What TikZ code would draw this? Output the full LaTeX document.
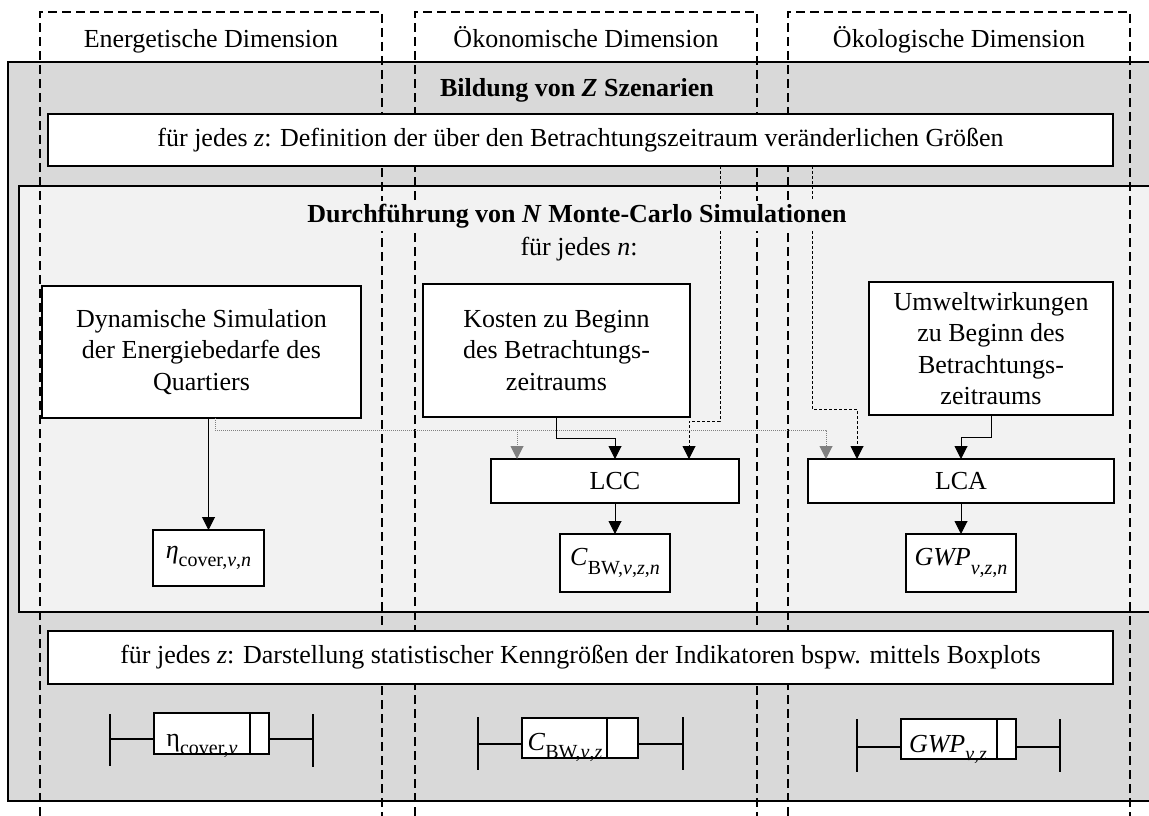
\documentclass[tikz,border=0pt]{standalone}
\usepackage{fontspec}
\setmainfont{Liberation Serif}
\usetikzlibrary{arrows.meta}
\definecolor{bandgray}{HTML}{D9D9D9}
\definecolor{loopgray}{HTML}{F2F2F2}
\definecolor{feedgray}{HTML}{808080}
% italic symbol and lowered index set in the text font
\newcommand{\vr}[1]{\textit{#1}}
\newcommand{\ix}[1]{\raisebox{-0.32em}{\fontsize{20}{21}\selectfont #1}}
\begin{document}
\begin{tikzpicture}[x=1pt,y=-1pt,
  every node/.style={font=\fontsize{26}{31.5}\selectfont, inner sep=0pt, outer sep=0pt},
  whitebox/.style={draw, line width=2pt, fill=white, align=center},
  dimline/.style={line width=2.5pt, dash pattern=on 9pt off 5pt},
  frame/.style={draw, line width=2pt},
  flow/.style={line width=1pt, -{Triangle[length=13pt,width=13pt]}},
  flowdash/.style={flow, dash pattern=on 3pt off 2pt},
  flowdot/.style={line width=1pt, draw=feedgray, dash pattern=on 1pt off 1pt,
                  -{Triangle[length=13pt,width=13pt,fill=feedgray]}},
  plotline/.style={line width=1.5pt},
  plotbox/.style={draw, line width=1.5pt, fill=white}
]
\useasboundingbox (0,0) rectangle (1149,816);

% scenario band and Monte-Carlo loop
\path[frame, fill=bandgray] (8,62) rectangle (1152,801);
\path[frame, fill=loopgray] (19,186) rectangle (1152,612);

% dimension columns
\draw[dimline] (40,816) -- (40,12) -- (382,12) -- (382,816);
\draw[dimline] (415,816) -- (415,12) -- (757,12) -- (757,816);
\draw[dimline] (788,816) -- (788,12) -- (1130,12) -- (1130,816);
\node[anchor=base] (hE) at (211,48) {Energetische Dimension};
\node[anchor=base] (hK) at (586,48) {Ökonomische Dimension};
\node[anchor=base] (hL) at (959,48) {Ökologische Dimension};

% process boxes
\node[whitebox, minimum width=1065, minimum height=52] (defbox) at (580.5,140)
  {für jedes \vr{z}: Definition der über den Betrachtungszeitraum veränderlichen Größen};
\node[whitebox, minimum width=319, minimum height=132] (dyn) at (201.5,352)
  {Dynamische Simulation\\der Energiebedarfe des\\Quartiers};
\node[whitebox, minimum width=267, minimum height=133] (kosten) at (556.5,350.5)
  {Kosten zu Beginn\\des Betrachtungs-\\zeitraums};
\node[whitebox, minimum width=244, minimum height=133] (umwelt) at (991,348.5)
  {Umweltwirkungen\\zu Beginn des\\Betrachtungs-\\zeitraums};
\node[whitebox, minimum width=248, minimum height=44] (lcc) at (615,481) {LCC};
\node[whitebox, minimum width=306, minimum height=44] (lca) at (961,481) {LCA};
\node[whitebox, minimum width=111, minimum height=56] (eta) at (208.5,558)
  {\vr{η}\ix{cover,\vr{v},\vr{n}}};
\node[whitebox, minimum width=110, minimum height=58] (cbw) at (615,563)
  {\vr{C}\ix{BW,\vr{v},\vr{z},\vr{n}}};
\node[whitebox, minimum width=110, minimum height=58] (gwp) at (961,563)
  {\vr{GWP}\ix{\vr{v},\vr{z},\vr{n}}};
\node[whitebox, minimum width=1065, minimum height=53] (outbox) at (580.5,657.5)
  {für jedes \vr{z}: Darstellung statistischer Kenngrößen der Indikatoren bspw. mittels Boxplots};

% helper abscissae and bus line
\coordinate (xk) at (720,0);
\coordinate (xl) at (689,0);
\coordinate (xm) at (812,0);
\coordinate (xn) at (857,0);
\coordinate (xd) at (215,0);
\coordinate (xo) at (826,0);
\coordinate (xp) at (517,0);
\coordinate (bus) at (0,430);

% connectors
\draw[flowdash] (defbox.south -| xk) -- ++(0,255) -| (lcc.north -| xl);
\draw[flowdash] (defbox.south -| xm) -- ++(0,243) -| (lca.north -| xn);
\draw[flowdot] (dyn.south -| xd) -- (xd |- bus) -| (lca.north -| xo);
\draw[flowdot] (xp |- bus) -- (lcc.north -| xp);
\draw[flow] (dyn.south -| eta.north) -- (eta.north);
\draw[flow] (kosten.south) -- ++(0,21) -| (lcc.north);
\draw[flow] (umwelt.south) -- ++(0,22) -| (lca.north);
\draw[flow] (lcc.south -| cbw.north) -- (cbw.north);
\draw[flow] (lca.south -| gwp.north) -- (gwp.north);

% titles
\node[anchor=base, fill=bandgray, inner sep=2pt] (tZ) at (577,96)
  {\textbf{Bildung von \textit{Z} Szenarien}};
\node[anchor=base, fill=loopgray, inner ysep=3pt, inner xsep=2pt] (tN) at (577,222)
  {\textbf{Durchführung von \textit{N} Monte-Carlo Simulationen}};
\node[anchor=base] (tn) at (579,255) {für jedes \vr{n}:};

% boxplots
\draw[plotline] (110,714) -- (110,766) (110,739) -- (154,739)
                (269,739) -- (313,739) (313,714) -- (313,767);
\node[plotbox, minimum width=115, minimum height=41] (bp1) at (211.5,733.5) {};
\draw[plotline] (250,713) -- (250,754);
\node[anchor=base] (l1) at (202,746) {η\ix{cover,\vr{v}}};

\draw[plotline] (478,717) -- (478,770) (478,744) -- (522,744)
                (638,744) -- (683,744) (683,717) -- (683,770);
\node[plotbox, minimum width=116, minimum height=40] (bp2) at (580,738) {};
\draw[plotline] (607,718) -- (607,758);
\node[anchor=base] (l2) at (565,750) {\vr{C}\ix{BW,\vr{v},\vr{z}}};

\draw[plotline] (857,719) -- (857,772) (857,747) -- (901,747)
                (1016,747) -- (1060,747) (1060,719) -- (1060,772);
\node[plotbox, minimum width=115, minimum height=40] (bp3) at (958.5,739) {};
\draw[plotline] (997,719) -- (997,759);
\node[anchor=base] (l3) at (948,752) {\vr{GWP}\ix{\vr{v},\vr{z}}};
\end{tikzpicture}
\end{document}
